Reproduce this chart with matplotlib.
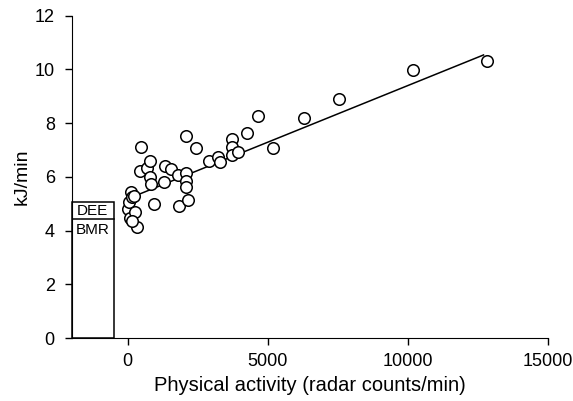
import matplotlib.pyplot as plt
from matplotlib.patches import Rectangle
import numpy as np

plt.rcParams['font.family'] = ['Liberation Sans', 'DejaVu Sans']

# radar counts/min vs energy expenditure (kJ/min)
activity = [0, 93, 57, 118, 143, 236, 261, 321, 154, 439, 475, 679, 807, 796, 843, 929,
            1343, 1546, 1314, 1786, 2082, 2082, 2093, 2093, 2429, 1839, 2171,
            2893, 3225, 3296, 3725, 3725, 3714, 3939, 4261, 4664, 5179, 6296,
            7536, 10179, 12832]
energy = [4.79, 4.46, 5.08, 5.45, 5.26, 5.29, 4.70, 4.15, 4.36, 6.23, 7.12, 6.32, 6.60, 6.01, 5.72, 4.99,
          6.42, 6.28, 5.81, 6.06, 6.16, 5.83, 5.63, 7.53, 7.08, 4.92, 5.14,
          6.60, 6.75, 6.57, 7.41, 7.12, 6.83, 6.93, 7.64, 8.28, 7.09, 8.20,
          8.89, 9.98, 10.32]

# fitted line
fit_intercept = 5.18
fit_slope = 0.000422
fit_range = [350, 12700]

# reference bar
dee = 5.07
bmr = 4.42
bar_x = [-2000, -500]

fig = plt.figure(figsize=(5.73, 4.01), dpi=100)
ax = fig.add_axes([0.1248, 0.1571, 0.9564 - 0.1248, 0.9608 - 0.1571])

fx = np.array(fit_range)
ax.plot(fx, fit_intercept + fit_slope * fx, color='black', lw=1.1, zorder=2)
ax.plot(activity, energy, 'o', mfc='white', mec='black', mew=1.1, ms=8.3, zorder=3)

ax.add_patch(Rectangle((bar_x[0], 0), bar_x[1] - bar_x[0], dee,
                       fill=False, edgecolor='black', lw=1.1, clip_on=False))
ax.plot(bar_x, [bmr, bmr], color='black', lw=1.1)
mid = (bar_x[0] + bar_x[1]) / 2
ax.text(mid, (dee + bmr) / 2, 'DEE', ha='center', va='center', fontsize=11)
ax.text(mid, bmr - 0.38, 'BMR', ha='center', va='center', fontsize=11)

ax.set_xlim(-2000, 15000)
ax.set_ylim(0, 12)
ax.set_xticks([0, 5000, 10000, 15000])
ax.set_yticks(range(0, 13, 2))
ax.spines['top'].set_visible(False)
ax.spines['right'].set_visible(False)
ax.spines['bottom'].set_bounds(-2000, 15000)
ax.tick_params(direction='out', length=5, width=1, labelsize=13)
ax.tick_params(axis='x', pad=6)
ax.tick_params(axis='y', pad=7)
ax.set_xlabel('Physical activity (radar counts/min)', fontsize=14.5, labelpad=4)
ax.set_ylabel('kJ/min', fontsize=14, labelpad=3)

plt.savefig('out.png', dpi=100)
